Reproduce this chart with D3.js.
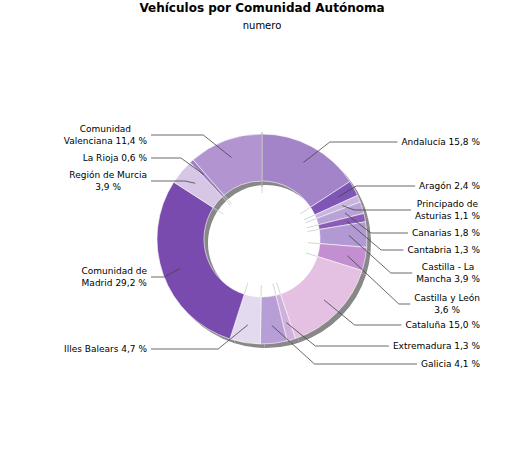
<!DOCTYPE html>
<html><head><meta charset="utf-8">
<script src="https://cdn.jsdelivr.net/npm/d3@7"></script>
<style>body{margin:0;background:#fff}text{font-family:"DejaVu Sans",sans-serif}</style>
</head><body><svg id="chart" width="525" height="450"></svg>
<script>
const regions = ['Andalucía','Aragón','Principado de|Asturias','Canarias','Cantabria','Castilla - La|Mancha','Castilla y León|','Cataluña','Extremadura','Galicia','Illes Balears','Comunidad de|Madrid','Región de Murcia|','La Rioja','Comunidad|Valenciana'];
const values = [15.8, 2.4, 1.1, 1.8, 1.3, 3.9, 3.6, 15.0, 1.3, 4.1, 4.7, 29.2, 3.9, 0.6, 11.4];
const colors = ['#a384c8','#7f55b5','#c8b6e0','#b8a2d6','#8a5cb8','#b399d4','#c48fd0','#e4c0e2','#d0b0dc','#b79ed6','#e4daf0','#7a4bae','#d8c6e6','#a080c0','#b294d0'];
// label baseline (first line) y, layout only
const labelY = [145, 189, 207, 236, 253, 270, 301, 328, 349, 367, 352, 274, 178, 161, 132];

const svg = d3.select('#chart');
const cx = 262, cy = 239, R = 105, r = 58;
svg.append('text').attr('x', 262).attr('y', 12).attr('text-anchor', 'middle')
  .attr('font-size', 12).attr('font-weight', 'bold').text('Vehículos por Comunidad Autónoma');
svg.append('text').attr('x', 262).attr('y', 29).attr('text-anchor', 'middle')
  .attr('font-size', 10).text('numero');

const pie = d3.pie().sort(null).value(d => d)(values);
const arc = d3.arc().innerRadius(r).outerRadius(R);
const g = svg.append('g').attr('transform', `translate(${cx},${cy})`);

g.append('g').attr('transform', 'translate(4,4)').selectAll('path').data(pie).join('path')
  .attr('d', arc).attr('fill', '#888');
g.selectAll('.tick').data(pie).join('line')
  .attr('x1', d => Math.sin(d.startAngle) * (r - 12)).attr('y1', d => -Math.cos(d.startAngle) * (r - 12))
  .attr('x2', d => Math.sin(d.startAngle) * (r + 6)).attr('y2', d => -Math.cos(d.startAngle) * (r + 6))
  .attr('stroke', '#ccc').attr('stroke-width', 0.8);
g.selectAll('.slice').data(pie).join('path')
  .attr('d', arc).attr('fill', (d, i) => colors[i]).attr('stroke', '#fff').attr('stroke-width', 0.6);
g.append('line').attr('x1', 0).attr('y1', -R - 2).attr('x2', 0).attr('y2', -r + 6)
  .attr('stroke', '#999').attr('stroke-width', 0.8);

const fmt = v => v.toFixed(1).replace('.', ',') + ' %';
pie.forEach((d, i) => {
  const a = (d.startAngle + d.endAngle) / 2;
  const px = cx + Math.sin(a) * (R - 18), py = cy - Math.cos(a) * (R - 18);
  const right = a < Math.PI;
  const parts = regions[i].split('|');
  let lines;
  if (parts.length === 1) lines = [parts[0] + ' ' + fmt(values[i])];
  else if (parts[1] === '') lines = [parts[0], fmt(values[i])];
  else lines = [parts[0], parts[1] + ' ' + fmt(values[i])];
  const t = svg.append('text').attr('font-size', 9).attr('text-anchor', 'middle');
  lines.forEach((s, k) => t.append('tspan').attr('y', labelY[i] + k * 12).text(s));
  const widths = t.selectAll('tspan').nodes().map(n => n.getComputedTextLength());
  const w = d3.max(widths);
  const edge = right ? 480 : 147;
  const mid = edge - w / 2;
  t.selectAll('tspan').attr('x', mid);
  const ly = labelY[i] + (lines.length - 1) * 6 - 3;
  const endX = right ? edge - w - 4 : edge + 4;
  const elbowX = right ? px + Math.abs(ly - py) * 0.9 + 8 : px - Math.abs(ly - py) * 0.9 - 8;
  const ex = right ? Math.min(elbowX, endX - 4) : Math.max(elbowX, endX + 4);
  svg.append('polyline').attr('points', `${px},${py} ${ex},${ly} ${endX},${ly}`)
    .attr('fill', 'none').attr('stroke', '#444').attr('stroke-width', 0.8);
});
</script></body></html>
